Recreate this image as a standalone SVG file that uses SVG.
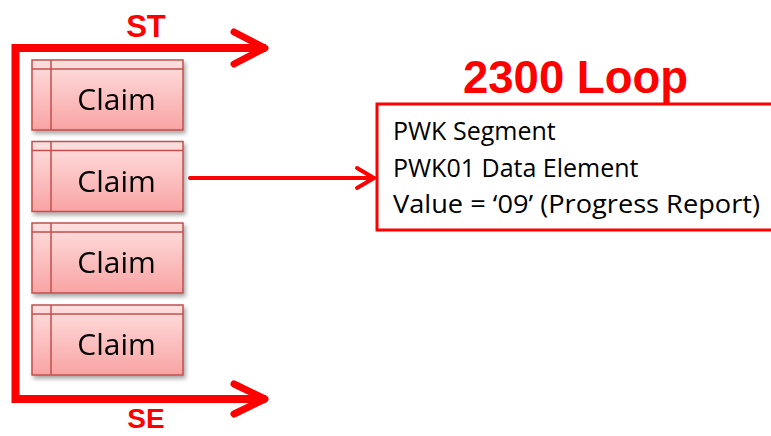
<svg xmlns="http://www.w3.org/2000/svg" width="771" height="436" viewBox="0 0 771 436">
  <defs>
    <linearGradient id="claimFill" x1="0" y1="0" x2="0" y2="1">
      <stop offset="0" stop-color="#ffe0e0"/>
      <stop offset="1" stop-color="#f9a3a3"/>
    </linearGradient>
    <filter id="shadow" x="-10%" y="-10%" width="130%" height="140%">
      <feDropShadow dx="2" dy="3" stdDeviation="2" flood-color="#000" flood-opacity="0.35"/>
    </filter>
  </defs>
  <style>
    .claim-box { fill: url(#claimFill); stroke: #c0504d; stroke-width: 1.5; }
    .claim-line { stroke: #c0504d; stroke-width: 1.5; fill: none; }
    .claim-text { font-family: "Open Sans", "Liberation Sans", sans-serif; font-size: 30px; fill: #000; text-anchor: middle; }
    .red-label { font-family: "Liberation Sans", Arial, sans-serif; font-weight: bold; fill: #ff0000; }
    .bracket { stroke: #ff0000; stroke-width: 8; fill: none; stroke-linejoin: miter; }
    .chev { stroke: #ff0000; stroke-width: 7; fill: none; stroke-linecap: round; stroke-linejoin: round; }
    .conn { stroke: #ff0000; stroke-width: 4; fill: none; stroke-linecap: round; stroke-linejoin: round; }
    .info-box { fill: #fff; stroke: #ff0000; stroke-width: 3; }
    .info-text { font-family: "Open Sans", "Liberation Sans", sans-serif; font-size: 25px; fill: #000; }
  </style>

  <g id="connectors">
    <path class="bracket" d="M266,48 H15.5 V399 H266"/>
    <path class="chev" d="M234,32 L265,48 L234,64"/>
    <path class="chev" d="M234,384 L265,399 L234,414"/>
    <path class="conn" d="M190,178 H374"/>
    <path class="conn" d="M357,168 L374,178 L357,188"/>
  </g>

  <g id="label-st"><text class="red-label" x="146" y="37" font-size="31" text-anchor="middle">ST</text></g>
  <g id="label-se"><text class="red-label" x="146" y="428" font-size="28" text-anchor="middle">SE</text></g>

  <g id="claim1" filter="url(#shadow)">
    <rect class="claim-box" x="32" y="60" width="151" height="70"/>
    <path class="claim-line" d="M51,60 V130 M32,69 H183"/>
    <text class="claim-text" x="116.5" y="110">Claim</text>
  </g>
  <g id="claim2" filter="url(#shadow)">
    <rect class="claim-box" x="32" y="141.5" width="151" height="70"/>
    <path class="claim-line" d="M51,141.5 V211.5 M32,150.5 H183"/>
    <text class="claim-text" x="116.5" y="191.5">Claim</text>
  </g>
  <g id="claim3" filter="url(#shadow)">
    <rect class="claim-box" x="32" y="223" width="151" height="70"/>
    <path class="claim-line" d="M51,223 V293 M32,232 H183"/>
    <text class="claim-text" x="116.5" y="273">Claim</text>
  </g>
  <g id="claim4" filter="url(#shadow)">
    <rect class="claim-box" x="32" y="305" width="151" height="70"/>
    <path class="claim-line" d="M51,305 V375 M32,314 H183"/>
    <text class="claim-text" x="116.5" y="355">Claim</text>
  </g>

  <g id="loop2300">
    <rect class="info-box" x="377" y="104" width="400" height="126"/>
    <text class="red-label" x="463" y="93" font-size="46" textLength="225" lengthAdjust="spacingAndGlyphs">2300 Loop</text>
    <text class="info-text" x="393" y="140">PWK Segment</text>
    <text class="info-text" x="393" y="177">PWK01 Data Element</text>
    <text class="info-text" x="393" y="213" textLength="367" lengthAdjust="spacingAndGlyphs">Value = ‘09’ (Progress Report)</text>
  </g>
</svg>
